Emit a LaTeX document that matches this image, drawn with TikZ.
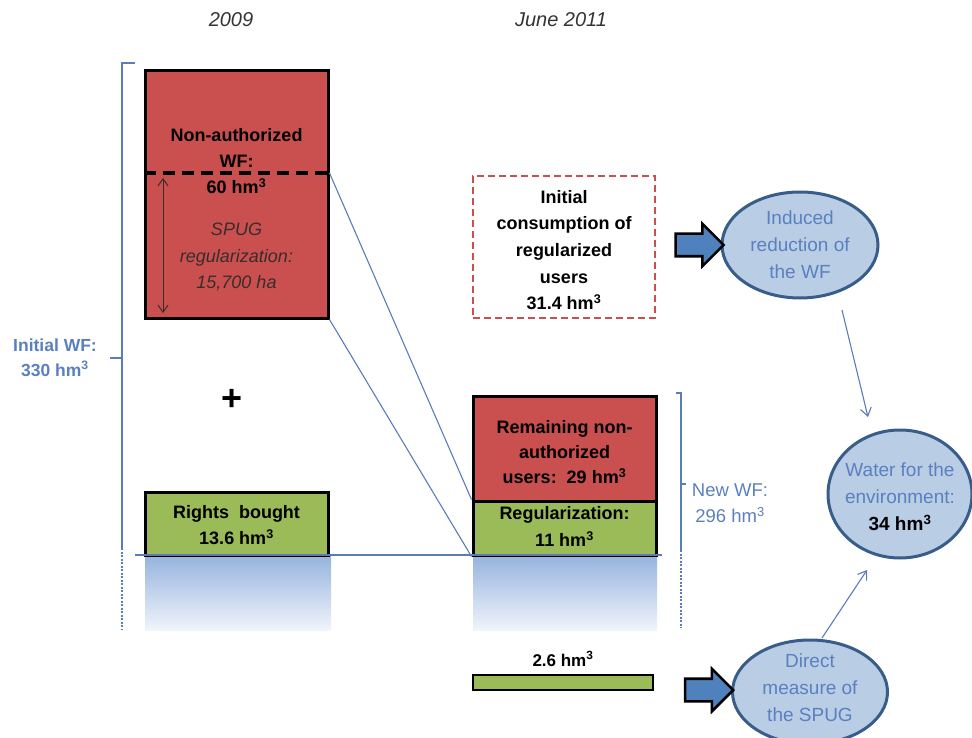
\documentclass[tikz,border=0pt]{standalone}
\usepackage{fontspec}
\setmainfont{Liberation Sans}
\usetikzlibrary{shapes.geometric,shapes.arrows,arrows.meta,calc}

\definecolor{redfill}{HTML}{C9504F}
\definecolor{greenfill}{HTML}{9BBB59}
\definecolor{linkblue}{HTML}{5A7DBA}
\definecolor{labelblue}{HTML}{5A80C0}
\definecolor{ellfill}{HTML}{B9CDE5}
\definecolor{ellborder}{HTML}{385D8A}
\definecolor{arrowfill}{HTML}{4F81BD}
\definecolor{shadetop}{RGB}{150,180,222}
\definecolor{shadebottom}{RGB}{240,244,251}
\definecolor{italicgray}{HTML}{3A2C2C}

\tikzset{
  boxtext/.style={font=\bfseries\fontsize{18}{26}\selectfont, align=center, text=black},
  solidbox/.style={draw=black, line width=3pt, inner sep=0pt},
  redbox/.style={solidbox, fill=redfill},
  greenbox/.style={solidbox, fill=greenfill},
  bubble/.style={ellipse, draw=ellborder, line width=3pt, fill=ellfill, inner sep=0pt},
  bubbletext/.style={font=\fontsize{19}{27}\selectfont, align=center, text=labelblue},
  fatarrow/.style={single arrow, draw=black, line width=2.6pt, fill=arrowfill,
    minimum height=48pt, inner sep=10pt, single arrow head extend=10pt},
  thinlink/.style={draw=linkblue, line width=1.1pt},
  bracket/.style={draw=linkblue, line width=1.1pt},
  flowtip/.style={-{Straight Barb[length=8pt,width=11pt]}, draw=linkblue, line width=1.1pt},
  yeartext/.style={font=\itshape\fontsize{20}{24}\selectfont, text=black!80},
  bluelabel/.style={font=\fontsize{18.5}{26}\selectfont, align=center, text=labelblue},
}

\begin{document}
\begin{tikzpicture}[x=1pt,y=-1pt]
\useasboundingbox (0,0) rectangle (972,738);

% column headings
\node[yeartext] (y2009) at (231,20) {2009};
\node[yeartext] (y2011) at (561,20) {June 2011};

% shaded ground under the columns
\shade[top color=shadetop, bottom color=shadebottom] (145,556) rectangle (331,630);
\shade[top color=shadetop, bottom color=shadebottom] (473,556) rectangle (657,630);

% 2009 column
\node[redbox, minimum width=183pt, minimum height=247pt] (nonauth) at (236.5,194.5) {};
\coordinate (cut) at (236.5,173);
\draw[black, line width=3.2pt, dash pattern=on 12pt off 7pt] (cut -| nonauth.west) -- (cut -| nonauth.east);
\node[boxtext] (nonauthtxt) at (236.5,161) {Non-authorized\\WF:\\60 hm\textsuperscript{3}};
\coordinate (spugtop) at (163,178);
\coordinate (spugbot) at (163,313);
\draw[{Straight Barb[length=7pt,width=10pt]}-{Straight Barb[length=7pt,width=10pt]}, italicgray, line width=1pt] (spugtop) -- (spugbot);
\node[font=\itshape\fontsize{18}{26.5}\selectfont, align=center, text=italicgray] (spugtxt) at (236.5,257) {SPUG\\regularization:\\15,700 ha};

\node[font=\bfseries\fontsize{36}{36}\selectfont] (plus) at (232,400) {+};

\node[greenbox, minimum width=183pt, minimum height=63pt] (bought) at (236.5,523.5) {};
\node[boxtext] (boughttxt) at (236.5,525) {Rights\ \ bought\\13.6 hm\textsuperscript{3}};

% 2011 column
\node[redbox, minimum width=183pt, minimum height=105pt] (remain) at (564.5,448.5) {};
\node[boxtext, font=\bfseries\fontsize{18}{25}\selectfont] (remaintxt) at (564.5,452) {Remaining non-\\authorized\\users:\ \ 29 hm\textsuperscript{3}};
\node[greenbox, minimum width=183pt, minimum height=54pt] (regul) at (564.5,528) {};
\node[boxtext, font=\bfseries\fontsize{18}{27}\selectfont] (regultxt) at (564.5,526.5) {Regularization:\\11 hm\textsuperscript{3}};

\node[draw=redfill, line width=2.8pt, dash pattern=on 7pt off 4pt, minimum width=182pt, minimum height=142pt, inner sep=0pt] (initcons) at (564,247) {};
\node[boxtext, font=\bfseries\fontsize{18}{26.7}\selectfont] (initconstxt) at (564,250) {Initial\\consumption of\\regularized\\users\\31.4 hm\textsuperscript{3}};

% baseline and projection lines
\coordinate (baseL) at (135,555);
\coordinate (baseR) at (662,555);
\draw[thinlink] (baseL) -- (baseR);
\draw[thinlink] (cut -| nonauth.east) -- (regul.north west);
\draw[thinlink] (nonauth.south east) -- (regul.south west);

% brackets for the totals
\coordinate (lbtop) at (122,63);
\coordinate (lbmid) at (122,358);
\coordinate (lbend) at (122,548);
\coordinate (lbfoot) at (122,630);
\draw[bracket] ($(lbtop)+(13,0)$) -- (lbtop) -- (lbend);
\draw[bracket] (lbmid) -- ++(-12,0);
\draw[bracket, dash pattern=on 2pt off 1.5pt] (lbend) -- (lbfoot);
\node[bluelabel, font=\bfseries\fontsize{17.5}{25}\selectfont] (initwf) at (55,357.5) {Initial WF:\\330 hm\textsuperscript{3}};

\coordinate (rbtop) at (681,393);
\coordinate (rbmid) at (681,484);
\coordinate (rbend) at (681,550);
\coordinate (rbfoot) at (681,628);
\draw[bracket] ($(rbtop)+(-5,0)$) -- (rbtop) -- (rbend);
\draw[bracket] (rbmid) -- ++(5,0);
\draw[bracket, dash pattern=on 2pt off 1.5pt] (rbend) -- (rbfoot);
\node[bluelabel] (newwf) at (730,503) {New WF:\\296 hm\textsuperscript{3}};

% the 2.6 hm3 bar
\node[greenbox, line width=2.4pt, minimum width=180pt, minimum height=15pt] (bar) at (563,682.5) {};
\node[boxtext, font=\bfseries\fontsize{17}{20}\selectfont] (bartxt) at (563,659) {2.6 hm\textsuperscript{3}};

% outcome bubbles
\node[bubble, minimum width=156pt, minimum height=106pt] (induced) at (800,245) {};
\node[bubbletext] (inducedtxt) at (800,245) {Induced\\reduction of\\the WF};
\node[bubble, minimum width=144pt, minimum height=128pt] (water) at (900,494) {};
\node[bubbletext] (watertxt) at (900,497) {Water for the\\environment:\\\textcolor{black}{\bfseries 34 hm\textsuperscript{3}}};
\node[bubble, minimum width=155pt, minimum height=104pt] (direct) at (810,692) {};
\node[bubbletext] (directtxt) at (810,688) {Direct\\measure of\\the SPUG};

% block arrows
\node[fatarrow] (push1) at (694,245) {};
\node[fatarrow] (push2) at (703.5,690) {};

% flows into the environmental water
\coordinate (f1s) at (842,310);
\coordinate (f1e) at (868,417);
\coordinate (f2s) at (822,638);
\coordinate (f2e) at (867,570);
\draw[flowtip] (f1s) -- (f1e);
\draw[flowtip] (f2s) -- (f2e);
\end{tikzpicture}
\end{document}
